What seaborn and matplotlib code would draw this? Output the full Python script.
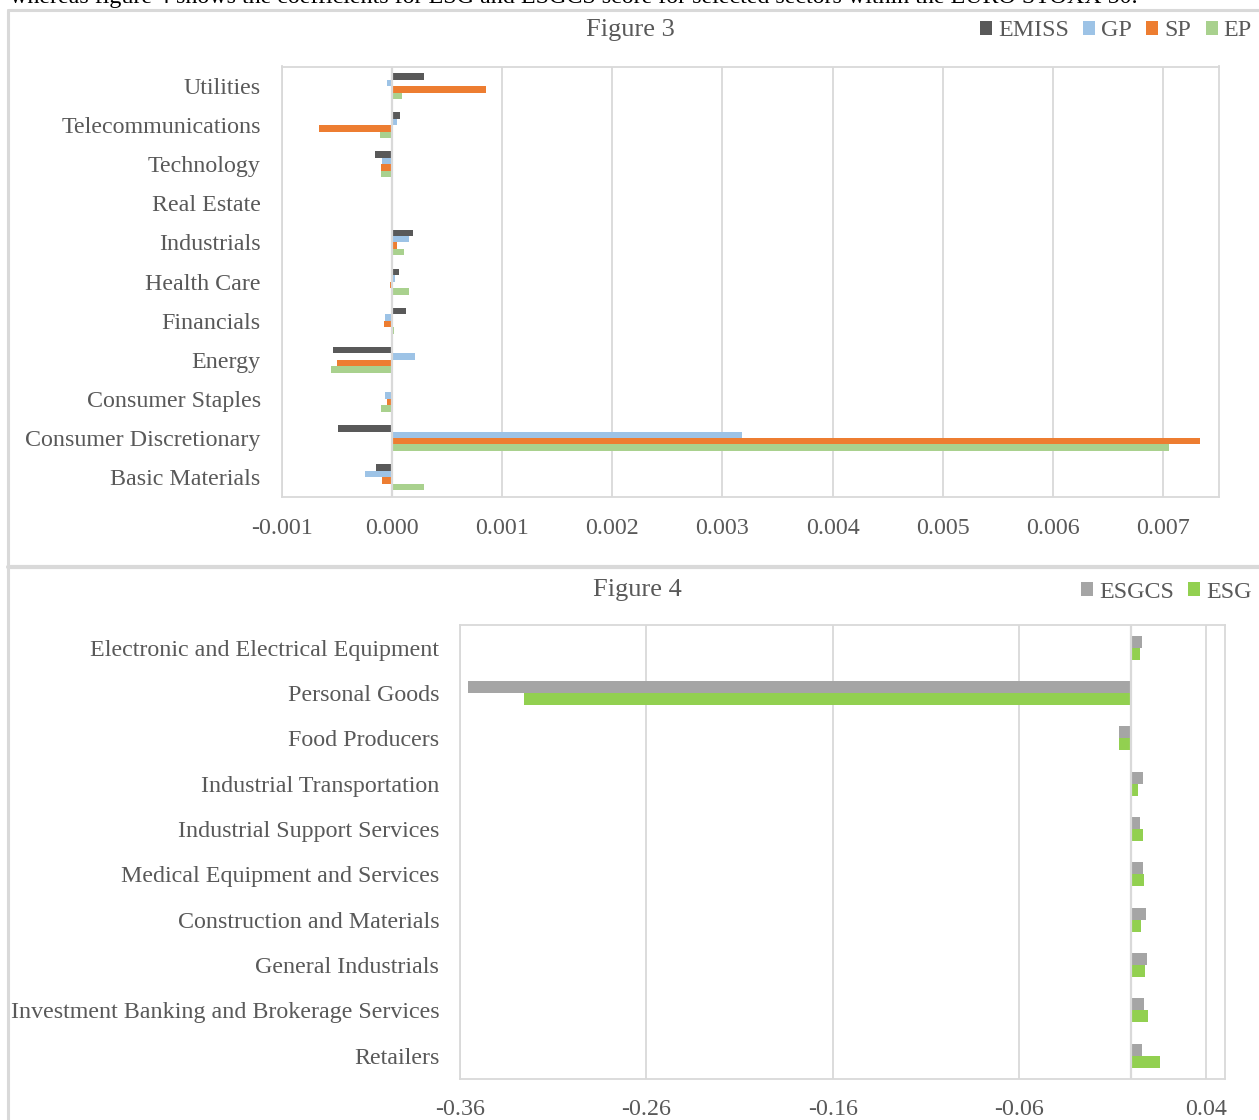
import matplotlib
matplotlib.use("Agg")
import matplotlib.pyplot as plt
from matplotlib.patches import Patch
from matplotlib.lines import Line2D
from matplotlib.ticker import FixedLocator, FuncFormatter
import seaborn as sns
import pandas as pd

# ---- Figure 3: coefficients by sector ----
sectors3 = ["Utilities", "Telecommunications", "Technology", "Real Estate",
            "Industrials", "Health Care", "Financials", "Energy",
            "Consumer Staples", "Consumer Discretionary", "Basic Materials"]
series3 = ["EMISS", "GP", "SP", "EP"]
emiss = [0.00029, 0.000075, -0.000155, 0.0, 0.000196, 0.00007, 0.000133,
         -0.00053, -0.00001, -0.000485, -0.000145]
gp = [-0.000045, 0.000045, -0.000085, 0.0, 0.000157, 0.000033, -0.000063,
      0.000214, -0.000057, 0.00318, -0.00024]
sp = [0.000857, -0.000657, -0.0001, 0.0, 0.00005, -0.000018, -0.00007,
      -0.0005, -0.00004, 0.00733, -0.000088]
ep = [0.00009, -0.00011, -0.0001, 0.0, 0.000115, 0.00016, 0.00002,
      -0.00055, -0.000097, 0.00705, 0.000296]
colors3 = ["#595959", "#9DC3E6", "#ED7D31", "#A9D18E"]
ticks3 = [-0.001, 0.0, 0.001, 0.002, 0.003, 0.004, 0.005, 0.006, 0.007]

# ---- Figure 4: ESG / ESGCS coefficients by sector ----
sectors4 = ["Electronic and Electrical Equipment", "Personal Goods",
            "Food Producers", "Industrial Transportation",
            "Industrial Support Services", "Medical Equipment and Services",
            "Construction and Materials", "General Industrials",
            "Investment Banking and Brokerage Services", "Retailers"]
series4 = ["ESGCS", "ESG"]
esgcs = [0.0055, -0.3555, -0.0068, 0.0063, 0.0048, 0.0063, 0.0077, 0.0086,
         0.0068, 0.0059]
esg = [0.0044, -0.3255, -0.0068, 0.0034, 0.0063, 0.007, 0.0052, 0.0072,
       0.009, 0.0154]
colors4 = ["#A5A5A5", "#92D050"]
ticks4 = [-0.36, -0.26, -0.16, -0.06, 0.04]

df3 = pd.DataFrame({
    "sector": sectors3 * 4,
    "series": sum([[s] * len(sectors3) for s in series3], []),
    "value": emiss + gp + sp + ep,
})
df4 = pd.DataFrame({
    "sector": sectors4 * 2,
    "series": sum([[s] * len(sectors4) for s in series4], []),
    "value": esgcs + esg,
})

sns.set_theme(style="white")
plt.rcParams["font.family"] = ["Liberation Serif", "DejaVu Serif"]
TXT = "#595959"
GRID = "#D9D9D9"
FS = 17.3

W, H = 1259, 1120
fig = plt.figure(figsize=(W / 100, H / 100), dpi=100)


def px_axes(x0, y0, x1, y1):
    return fig.add_axes([x0 / W, 1 - y1 / H, (x1 - x0) / W, (y1 - y0) / H])


def style_axes(ax, ticks, fmt, xlim):
    ax.set_xlim(*xlim)
    ax.xaxis.set_major_locator(FixedLocator(ticks))
    ax.xaxis.set_major_formatter(FuncFormatter(fmt))
    ax.grid(axis="x", color=GRID, linewidth=1.3)
    ax.set_axisbelow(True)
    ax.axvline(0, color=GRID, linewidth=1.6, zorder=1)
    for sp_ in ax.spines.values():
        sp_.set_color(GRID)
        sp_.set_linewidth(1.3)
    ax.tick_params(axis="both", length=0, labelsize=FS, labelcolor=TXT)
    ax.tick_params(axis="y", pad=15)
    ax.tick_params(axis="x", pad=15)
    ax.set_xlabel("")
    ax.set_ylabel("")


ax1 = px_axes(281.5, 66.5, 1218.5, 496.7)
sns.barplot(data=df3, y="sector", x="value", hue="series", order=sectors3,
            hue_order=series3, palette=colors3, orient="h", width=0.66,
            saturation=1, errorbar=None, legend=False, linewidth=0, ax=ax1)
style_axes(ax1, ticks3, lambda v, p: f"{v:.3f}", (-0.001, 0.0075))

ax2 = px_axes(460, 625, 1225, 1078.5)
sns.barplot(data=df4, y="sector", x="value", hue="series", order=sectors4,
            hue_order=series4, palette=colors4, orient="h", width=0.53,
            saturation=1, errorbar=None, legend=False, linewidth=0, ax=ax2)
style_axes(ax2, ticks4, lambda v, p: f"{v:.2f}", (-0.36, 0.0502))

# Titles
fig.text(630 / W, 1 - 30 / H, "Figure 3", ha="center", va="center",
         fontsize=19, color=TXT)
fig.text(637 / W, 1 - 590 / H, "Figure 4", ha="center", va="center",
         fontsize=19, color=TXT)

# Legends
leg_kw = dict(frameon=False, handlelength=0.5, handleheight=0.5,
              handletextpad=0.25, columnspacing=0.6, borderaxespad=0,
              borderpad=0, labelcolor=TXT,
              prop={"size": FS, "family": "Liberation Serif"})
h3 = [Patch(facecolor=c, edgecolor="none", label=s) for s, c in zip(series3, colors3)]
fig.legend(handles=h3, ncol=4, loc="center right",
           bbox_to_anchor=(1252 / W, 1 - 31 / H), **leg_kw)
h4 = [Patch(facecolor=c, edgecolor="none", label=s) for s, c in zip(series4, colors4)]
fig.legend(handles=h4, ncol=2, loc="center right",
           bbox_to_anchor=(1252 / W, 1 - 592 / H), **leg_kw)

# Panel frames
fig.add_artist(Line2D([8 / W, 1], [1 - 9.5 / H, 1 - 9.5 / H], color=GRID, linewidth=2.2))
fig.add_artist(Line2D([8 / W, 8 / W], [1 - 9.5 / H, 0], color=GRID, linewidth=2.2))
fig.add_artist(Line2D([8 / W, 1], [1 - 566.5 / H, 1 - 566.5 / H], color=GRID, linewidth=3.0))

# Running text line above the chart frame
fig.text(10 / W, 1 - 3.5 / H,
         "whereas figure 4 shows the coefficients for ESG and ESGCS score for "
         "selected sectors within the EURO STOXX 50.",
         ha="left", va="baseline", fontsize=17.3, color="black")

fig.savefig("out.png", dpi=100)
